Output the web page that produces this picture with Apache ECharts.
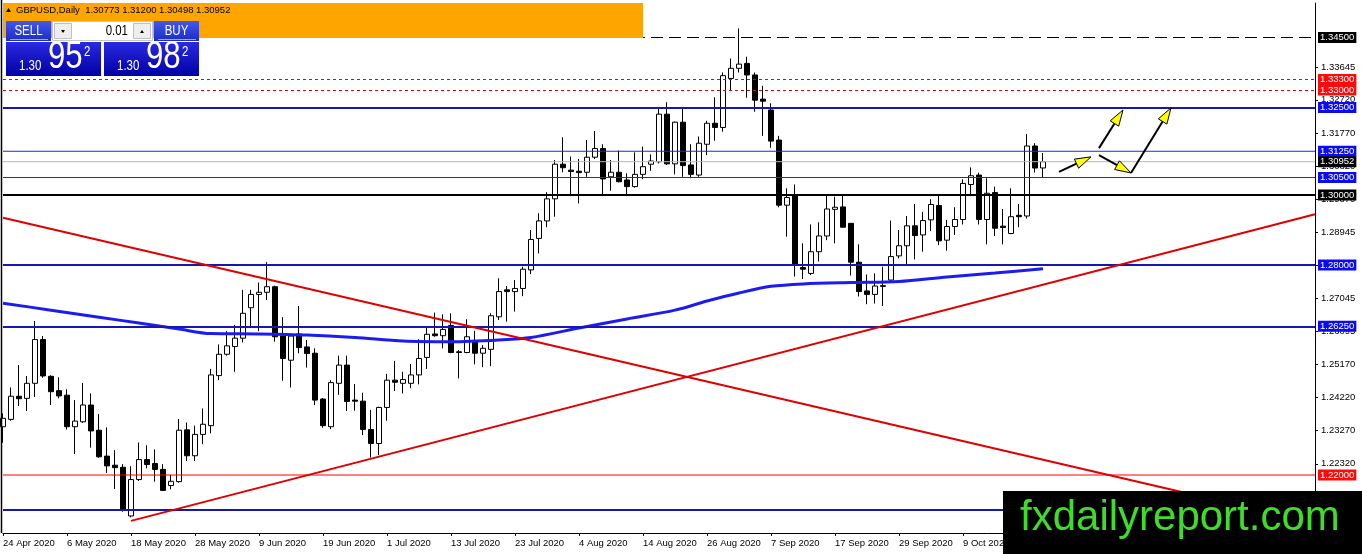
<!DOCTYPE html>
<html lang="en">
<head>
    <meta charset="UTF-8">
    <title>GBPUSD,Daily</title>
    <script src="https://cdn.jsdelivr.net/npm/echarts@6/dist/echarts.min.js"></script>
</head>
<body>
<div id="main" style="width: 1362px;height:554px;"></div>

<script type="text/javascript">
    // bars are trading days counted from this date
    var startDate = '2020-04-24';
    var slotCount = 165;

    var opens = [
        1.2338, 1.2359, 1.2425, 1.2419, 1.2462, 1.2587, 1.2482, 1.2441, 1.2428, 1.2338,
        1.2352, 1.2400, 1.2328, 1.2254, 1.2228, 1.2222, 1.2083, 1.2187, 1.2244, 1.2233,
        1.2216, 1.2170, 1.2181, 1.2329, 1.2255, 1.2316, 1.2341, 1.2484, 1.2545, 1.2567,
        1.2591, 1.2678, 1.2716, 1.2722, 1.2738, 1.2597, 1.2528, 1.2603, 1.2566, 1.2548,
        1.2417, 1.2338, 1.2462, 1.2514, 1.2414, 1.2411, 1.2330, 1.2290, 1.2393, 1.2471,
        1.2462, 1.2462, 1.2486, 1.2536, 1.2603, 1.2598, 1.2627, 1.2552, 1.2550, 1.2581,
        1.2548, 1.2559, 1.2652, 1.2729, 1.2724, 1.2733, 1.2786, 1.2876, 1.2926, 1.2989,
        1.3088, 1.3071, 1.3068, 1.3065, 1.3108, 1.3133, 1.3052, 1.3065, 1.3043, 1.3024,
        1.3059, 1.3088, 1.3095, 1.3231, 1.3089, 1.3208, 1.3086, 1.3057, 1.3145, 1.3205,
        1.3193, 1.3333, 1.3362, 1.3376, 1.3343, 1.3274, 1.3243, 1.3157, 1.2971, 1.2998,
        1.2793, 1.2776, 1.2838, 1.2883, 1.2959, 1.2966, 1.2919, 1.2808, 1.2726, 1.2716,
        1.2741, 1.2757, 1.2826, 1.2855, 1.2912, 1.2886, 1.2929, 1.2970, 1.2871, 1.2910,
        1.2930, 1.3030, 1.3057, 1.2930, 1.3007, 1.2911, 1.2890, 1.2942, 1.2940, 1.3140,
        1.30773
    ];
    var highs = [
        1.2376, 1.2450, 1.2514, 1.2483, 1.2640, 1.2597, 1.2485, 1.2479, 1.2445, 1.2414,
        1.2463, 1.2433, 1.2374, 1.2336, 1.2271, 1.2231, 1.2225, 1.2293, 1.2285, 1.2273,
        1.2231, 1.2200, 1.2360, 1.2350, 1.2341, 1.2390, 1.2503, 1.2573, 1.2611, 1.2629,
        1.2729, 1.2729, 1.2750, 1.2808, 1.2741, 1.2651, 1.2600, 1.2683, 1.2586, 1.2562,
        1.2420, 1.2471, 1.2541, 1.2541, 1.2460, 1.2435, 1.2386, 1.2395, 1.2489, 1.2526,
        1.2495, 1.2517, 1.2588, 1.2622, 1.2664, 1.2659, 1.2662, 1.2557, 1.2645, 1.2612,
        1.2571, 1.2662, 1.2762, 1.2740, 1.2757, 1.2795, 1.2900, 1.2948, 1.3008, 1.3100,
        1.3165, 1.3110, 1.3103, 1.3157, 1.3183, 1.3145, 1.3100, 1.3127, 1.3062, 1.3122,
        1.3138, 1.3116, 1.3248, 1.3265, 1.3210, 1.3248, 1.3145, 1.3167, 1.3212, 1.3279,
        1.3350, 1.3390, 1.3476, 1.3395, 1.3350, 1.3312, 1.3262, 1.3169, 1.3019, 1.3030,
        1.2862, 1.2916, 1.2922, 1.3002, 1.2995, 1.2997, 1.2920, 1.2859, 1.2773, 1.2776,
        1.2795, 1.2927, 1.2900, 1.2940, 1.2974, 1.2952, 1.2988, 1.3003, 1.2929, 1.2965,
        1.3045, 1.3079, 1.3064, 1.3048, 1.3024, 1.2960, 1.3019, 1.2974, 1.3174, 1.3148,
        1.31200
    ];
    var lows = [
        1.2292, 1.2355, 1.2397, 1.2383, 1.2423, 1.2478, 1.2400, 1.2419, 1.2330, 1.2260,
        1.2349, 1.2278, 1.2249, 1.2206, 1.2160, 1.2095, 1.2079, 1.2183, 1.2219, 1.2181,
        1.2154, 1.2159, 1.2178, 1.2240, 1.2240, 1.2288, 1.2319, 1.2471, 1.2541, 1.2495,
        1.2579, 1.2624, 1.2611, 1.2700, 1.2581, 1.2469, 1.2450, 1.2548, 1.2507, 1.2400,
        1.2335, 1.2331, 1.2429, 1.2383, 1.2384, 1.2314, 1.2250, 1.2257, 1.2355, 1.2440,
        1.2433, 1.2448, 1.2459, 1.2503, 1.2595, 1.2562, 1.2548, 1.2476, 1.2548, 1.2516,
        1.2508, 1.2511, 1.2643, 1.2638, 1.2667, 1.2711, 1.2774, 1.2833, 1.2908, 1.2938,
        1.3065, 1.3000, 1.2976, 1.3052, 1.3103, 1.3003, 1.3012, 1.3036, 1.2998, 1.3021,
        1.3045, 1.3069, 1.3090, 1.3086, 1.3059, 1.3052, 1.3048, 1.3052, 1.3114, 1.3155,
        1.3181, 1.3297, 1.3350, 1.3278, 1.3238, 1.3169, 1.3135, 1.2965, 1.2881, 1.2767,
        1.2760, 1.2771, 1.2810, 1.2871, 1.2862, 1.2907, 1.2770, 1.2710, 1.2688, 1.2690,
        1.2683, 1.2752, 1.2819, 1.2800, 1.2816, 1.2838, 1.2897, 1.2857, 1.2841, 1.2886,
        1.2916, 1.3000, 1.2916, 1.2859, 1.2883, 1.2859, 1.2888, 1.2908, 1.2933, 1.3064,
        1.30498
    ];
    var closes = [
        1.2362, 1.2425, 1.2418, 1.2462, 1.2587, 1.2483, 1.2438, 1.2426, 1.2338, 1.2354,
        1.2400, 1.2326, 1.2252, 1.2226, 1.2221, 1.2103, 1.2187, 1.2244, 1.2230, 1.2216,
        1.2156, 1.2182, 1.2328, 1.2255, 1.2316, 1.2345, 1.2486, 1.2545, 1.2569, 1.2591,
        1.2662, 1.2716, 1.2722, 1.2738, 1.2595, 1.2533, 1.2597, 1.2564, 1.2547, 1.2414,
        1.2341, 1.2464, 1.2514, 1.2410, 1.2411, 1.2330, 1.2290, 1.2393, 1.2471, 1.2465,
        1.2473, 1.2486, 1.2533, 1.2602, 1.2598, 1.2616, 1.2550, 1.2550, 1.2595, 1.2548,
        1.2562, 1.2655, 1.2724, 1.2724, 1.2733, 1.2788, 1.2873, 1.2926, 1.2989, 1.3088,
        1.3078, 1.3067, 1.3064, 1.3108, 1.3133, 1.3046, 1.3065, 1.3038, 1.3024, 1.3059,
        1.3081, 1.3097, 1.3231, 1.3089, 1.3208, 1.3084, 1.3059, 1.3148, 1.3205, 1.3193,
        1.3341, 1.3362, 1.3374, 1.3343, 1.3271, 1.3268, 1.3154, 1.2971, 1.2993, 1.2800,
        1.2788, 1.2838, 1.2883, 1.2960, 1.2965, 1.2908, 1.2808, 1.2724, 1.2716, 1.2740,
        1.2739, 1.2824, 1.2855, 1.2912, 1.2884, 1.2927, 1.2973, 1.2869, 1.2910, 1.2930,
        1.3033, 1.3055, 1.2930, 1.3005, 1.2905, 1.2907, 1.2938, 1.2938, 1.3140, 1.3077,
        1.30952
    ];

    // moving average at these bars
    var maBars = [0, 6, 12, 17, 22, 26, 32, 38, 44, 50, 56, 62, 66, 72, 78, 84, 88, 92, 96, 100, 106, 112, 118, 124, 130];
    var maValues = [1.2691, 1.2671, 1.2651, 1.2634, 1.2617, 1.2604, 1.2603, 1.2600, 1.2593, 1.2583, 1.2581, 1.2586, 1.2593,
        1.2620, 1.2646, 1.2671, 1.2697, 1.2720, 1.2739, 1.2746, 1.2750, 1.2753, 1.2766, 1.2777, 1.2789];

    var trendDown = [[0, 1.2935], [164, 1.2063]];
    var trendUp = [[16, 1.2069], [164, 1.2945]];

    var levelValues = [1.34500, 1.33300, 1.33000, 1.32500, 1.31250, 1.30952, 1.30500, 1.30000, 1.28000, 1.26250, 1.22000, 1.21000];

    // [bar from, price from, bar to, price to]
    var arrows = [
        [131.5, 1.3066, 135.8, 1.3109],
        [136.8, 1.3134, 140.2, 1.3243],
        [136.5, 1.3114, 140.8, 1.3063],
        [140.8, 1.3063, 146.1, 1.3249]
    ];

    var priceTicks = [1.33645, 1.32720, 1.31770, 1.30820, 1.29870, 1.28945, 1.27995, 1.27045, 1.26095, 1.25170, 1.24220, 1.23270, 1.22320];

    function tradingDays(start, n) {
        var months = ['Jan', 'Feb', 'Mar', 'Apr', 'May', 'Jun', 'Jul', 'Aug', 'Sep', 'Oct', 'Nov', 'Dec'];
        var d = new Date(start + 'T00:00:00Z');
        var out = [];
        while (out.length < n) {
            var wd = d.getUTCDay();
            if (wd !== 0 && wd !== 6) {
                out.push(d.getUTCDate() + ' ' + months[d.getUTCMonth()] + ' ' + d.getUTCFullYear());
            }
            d.setUTCDate(d.getUTCDate() + 1);
        }
        return out;
    }

    var dates = tradingDays(startDate, slotCount);
    var candles = opens.map(function (o, i) {
        return [o, closes[i], lows[i], highs[i]];
    });
    var maData = maBars.map(function (b, i) {
        return [b, maValues[i]];
    });

    var FONT = '"Liberation Sans", Arial, sans-serif';
    var LINE_BLUE = '#1616b0';
    var THIN_BLUE = '#2424e0';
    var BOX_BLUE = '#0c0cf0';
    var NARROW_X = 0.82;
    var lastSlot = slotCount - 1;

    // line colour/width/dash per level; thin solid ones are drawn as plain line series
    var levelStyles = [
        {color: '#000', width: 1, type: [12, 6], box: '#000'},
        {color: '#ee0000', width: 1, type: [3, 3], box: '#ff0a0a'},
        {color: '#ee0000', width: 1, type: [3, 3], box: '#ff0a0a'},
        {color: LINE_BLUE, width: 2, type: 'solid', box: BOX_BLUE},
        {color: THIN_BLUE, width: 1, type: 'solid', box: BOX_BLUE, thin: true},
        {color: '#b8b8b8', width: 1, type: 'solid', box: '#000', thin: true},
        {color: THIN_BLUE, width: 1, type: 'solid', box: BOX_BLUE, thin: true},
        {color: '#000', width: 2, type: 'solid', box: '#000'},
        {color: LINE_BLUE, width: 2, type: 'solid', box: BOX_BLUE},
        {color: LINE_BLUE, width: 2, type: 'solid', box: BOX_BLUE},
        {color: '#ff0000', width: 1, type: 'solid', box: '#ff0a0a', thin: true},
        {color: LINE_BLUE, width: 2, type: 'solid', box: null}
    ];

    var levelLines = levelValues.map(function (v, i) {
        var s = levelStyles[i];
        return {
            yAxis: v,
            lineStyle: s.thin ? {color: 'rgba(0,0,0,0)', width: 1} : {color: s.color, width: s.width, type: s.type},
            label: s.box ? {backgroundColor: s.box, color: '#fff'} : {show: false}
        };
    });

    var thinSeries = [];
    levelValues.forEach(function (v, i) {
        var s = levelStyles[i];
        if (!s.thin) return;
        thinSeries.push({
            type: 'line',
            data: [[0, v], [lastSlot, v]],
            symbol: 'none',
            z: 4,
            color: s.color,
            lineStyle: {color: s.color, width: 1}
        });
    });

    var myChart = echarts.init(document.getElementById('main'));

    function grad(top, bottom) {
        return new echarts.graphic.LinearGradient(0, 0, 0, 1, [
            {offset: 0, color: top}, {offset: 1, color: bottom}
        ]);
    }

    // condensed white text, squeezed horizontally like the terminal font
    function txt(x, y, s, size, align, color) {
        return {
            type: 'text', x: x, y: y, scaleX: NARROW_X, z: 102,
            style: {text: s, fill: color || '#fff', font: size + 'px ' + FONT, textAlign: align || 'left', textVerticalAlign: 'middle'}
        };
    }

    function priceBox(x, big) {
        return [
            {type: 'rect', shape: {x: x, y: 42, width: 95, height: 34}, style: {fill: grad('#2a2ae0', '#0000a4')}, z: 101},
            txt(x + 13, 66, '1.30', 14),
            txt(x + 42, 58, big, 38),
            txt(x + 78, 52, '2', 14)
        ];
    }

    var panel = [
        {type: 'line', shape: {x1: 1.5, y1: 0, x2: 1.5, y2: 533}, style: {stroke: '#000', lineWidth: 1.5}, z: 99},
        {type: 'rect', shape: {x: 3, y: 3, width: 640, height: 35}, style: {fill: '#ffa500'}, z: 100},
        {type: 'polygon', shape: {points: [[6, 12], [8.5, 8], [11, 12]]}, style: {fill: '#000'}, z: 101},
        {type: 'text', x: 16, y: 10, style: {text: 'GBPUSD,Daily  1.30773 1.31200 1.30498 1.30952', fill: '#000', font: '9.5px ' + FONT, textVerticalAlign: 'middle'}, z: 101},
        // sell / lot / buy row
        {type: 'rect', shape: {x: 6, y: 21, width: 45, height: 20}, style: {fill: grad('#4458ec', '#1a2cc4')}, z: 101},
        {type: 'line', shape: {x1: 10, y1: 39.5, x2: 48, y2: 39.5}, style: {stroke: '#9aa8ff', lineWidth: 1}, z: 102},
        txt(28.5, 31, 'SELL', 14, 'center'),
        {type: 'rect', shape: {x: 52.5, y: 21.5, width: 100, height: 19}, style: {fill: '#fff', stroke: '#c8c8c8'}, z: 101},
        {type: 'rect', shape: {x: 54.5, y: 23.5, width: 17, height: 15}, style: {fill: '#eeeeee', stroke: '#c0c0c0'}, z: 102},
        {type: 'polygon', shape: {points: [[61, 30], [65, 30], [63, 33]]}, style: {fill: '#000'}, z: 103},
        txt(128, 31, '0.01', 14, 'right', '#000'),
        {type: 'rect', shape: {x: 133.5, y: 23.5, width: 17, height: 15}, style: {fill: '#eeeeee', stroke: '#c0c0c0'}, z: 102},
        {type: 'polygon', shape: {points: [[140, 33], [144, 33], [142, 30]]}, style: {fill: '#000'}, z: 103},
        {type: 'rect', shape: {x: 154, y: 21, width: 45, height: 20}, style: {fill: grad('#4458ec', '#1a2cc4')}, z: 101},
        {type: 'line', shape: {x1: 158, y1: 39.5, x2: 196, y2: 39.5}, style: {stroke: '#9aa8ff', lineWidth: 1}, z: 102},
        txt(176.5, 31, 'BUY', 14, 'center')
    ].concat(priceBox(6, '95'), priceBox(104, '98'), [
        {type: 'rect', shape: {x: 1003, y: 491, width: 359, height: 63}, style: {fill: '#000'}, z: 100},
        {type: 'text', x: 1020, y: 518, style: {text: 'fxdailyreport.com', fill: '#3fdc2a', font: '42px ' + FONT, textVerticalAlign: 'middle'}, z: 101}
    ]);

    var option = {
        animation: false,
        backgroundColor: '#fff',
        grid: {left: 3, right: 47, top: 3, bottom: 21, containLabel: false},
        xAxis: {
            type: 'category',
            data: dates,
            boundaryGap: false,
            axisLine: {lineStyle: {color: '#000', width: 1}},
            axisTick: {interval: 7, length: 3, lineStyle: {color: '#000'}},
            axisLabel: {interval: 7, align: 'left', margin: 5, color: '#000', fontSize: 9.5, fontFamily: FONT},
            splitLine: {show: false}
        },
        yAxis: {
            type: 'value',
            position: 'right',
            min: 1.20343,
            max: 1.35486,
            axisLine: {show: true, lineStyle: {color: '#000', width: 1}},
            axisTick: {show: true, customValues: priceTicks, length: 3, lineStyle: {color: '#000'}},
            axisLabel: {
                customValues: priceTicks, margin: 6, color: '#000', fontSize: 9.5, fontFamily: FONT,
                formatter: function (v) { return v.toFixed(5); }
            },
            splitLine: {show: false}
        },
        graphic: panel,
        series: [
            {
                type: 'candlestick',
                data: candles,
                barWidth: 5,
                z: 2,
                itemStyle: {color: '#fff', color0: '#000', borderColor: '#000', borderColor0: '#000', borderWidth: 1}
            },
            {
                type: 'line',
                data: maData,
                smooth: 0.3,
                symbol: 'none',
                z: 4,
                lineStyle: {color: '#1c1cf0', width: 3}
            },
            {
                type: 'line',
                data: trendDown,
                symbol: 'none',
                z: 5,
                lineStyle: {color: '#e00000', width: 2},
                markLine: {
                    silent: true,
                    precision: 5,
                    symbol: ['none', 'none'],
                    label: {
                        position: 'end', distance: 3, color: '#fff', fontSize: 9.5, fontFamily: FONT,
                        padding: [1, 2, 0, 2], lineHeight: 10,
                        formatter: function (p) { return Number(p.value).toFixed(5); }
                    },
                    data: levelLines
                }
            },
            {
                type: 'line',
                data: trendUp,
                symbol: 'none',
                z: 5,
                lineStyle: {color: '#e00000', width: 2}
            },
            {
                type: 'custom',
                data: arrows,
                z: 6,
                encode: {x: [0, 2], y: [1, 3]},
                renderItem: function (params, api) {
                    var a = api.coord([api.value(0), api.value(1)]);
                    var b = api.coord([api.value(2), api.value(3)]);
                    var dx = b[0] - a[0], dy = b[1] - a[1];
                    var len = Math.sqrt(dx * dx + dy * dy);
                    var ux = dx / len, uy = dy / len;
                    var head = 16, half = 5;
                    var bx = b[0] - ux * head, by = b[1] - uy * head;
                    return {
                        type: 'group',
                        children: [
                            {type: 'line', shape: {x1: a[0], y1: a[1], x2: bx, y2: by}, style: {stroke: '#000', lineWidth: 2}},
                            {
                                type: 'polygon',
                                shape: {points: [[b[0], b[1]], [bx - uy * half, by + ux * half], [bx + uy * half, by - ux * half]]},
                                style: {fill: '#ffff00', stroke: '#000', lineWidth: 1}
                            }
                        ]
                    };
                }
            }
        ].concat(thinSeries)
    };
    myChart.setOption(option);
</script>
</body>
<style type="text/css">
    * {
        margin: 0;
        padding: 0;
    }

    html, body {
        height: 100%;
        background: #fff;
    }
</style>
</html>
